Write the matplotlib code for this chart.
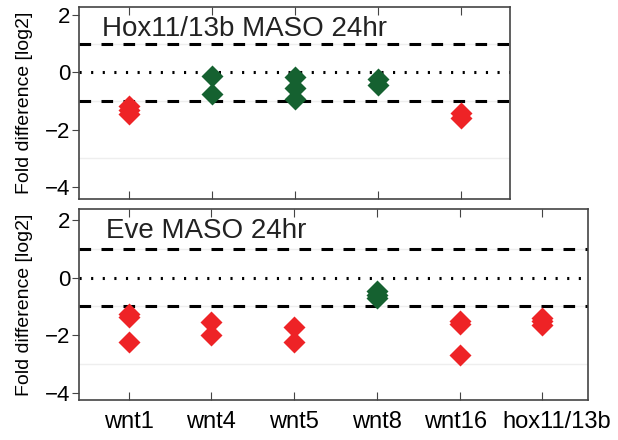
import matplotlib
matplotlib.use('Agg')
import matplotlib.pyplot as plt
import matplotlib.transforms as mtransforms

plt.rcParams['font.family'] = ['Liberation Sans', 'DejaVu Sans']

# Data (log2 fold difference)
top_title = 'Hox11/13b MASO 24hr'
top_genes = ['wnt1', 'wnt4', 'wnt5', 'wnt8', 'wnt16']
top_values = [
    [-1.17, -1.3, -1.47],
    [-0.13, -0.76],
    [-0.18, -0.55, -0.92],
    [-0.22, -0.45],
    [-1.42, -1.58],
]
top_signif = [True, False, False, False, True]

bot_title = 'Eve MASO 24hr'
bot_genes = ['wnt1', 'wnt4', 'wnt5', 'wnt8', 'wnt16', 'hox11/13b']
bot_values = [
    [-1.25, -1.38, -2.22],
    [-1.55, -2.0],
    [-1.72, -2.22],
    [-0.48, -0.6, -0.7],
    [-1.52, -1.6, -2.68],
    [-1.4, -1.52, -1.65],
]
bot_signif = [True, True, True, False, True, True]

RED = '#ee2326'
GREEN = '#156130'
SPINE = '#444444'

fig = plt.figure(figsize=(6.18, 4.4), dpi=100)
ax1 = fig.add_axes([79 / 618, 1 - 199 / 440, 431 / 618, 192 / 440])
ax2 = fig.add_axes([79 / 618, 1 - 400 / 440, 509 / 618, 191 / 440])


def panel(ax, title, genes, values, signif, ylim, xmax, label_x, show_xlabels):
    for y in [1, -1, -3]:
        ax.axhline(y, color='#eeeeee', lw=1, zorder=0)
    ax.axhline(1, color='black', lw=2.2, ls=(0, (3.8, 3.4)), zorder=1)
    ax.axhline(-1, color='black', lw=2.2, ls=(0, (3.8, 3.4)), zorder=1)
    ax.axhline(0, color='black', lw=2.2, ls=(0, (0.7, 3.1)), zorder=1)
    for i, (vals, sig) in enumerate(zip(values, signif)):
        ax.plot([i + 1] * len(vals), vals, ls='none', marker='D', ms=11,
                mfc=RED if sig else GREEN, mec='none', zorder=3)
    ax.set_xlim(0.4, xmax)
    ax.set_ylim(*ylim)
    ax.set_yticks([2, 0, -2, -4])
    ax.set_xticks(range(1, len(genes) + 1))
    ax.set_xticklabels(genes if show_xlabels else [])
    ax.tick_params(axis='x', direction='in', top=True, bottom=True, length=6,
                   color=SPINE, labelsize=17, pad=8)
    ax.tick_params(axis='y', direction='out', length=5, color=SPINE,
                   labelsize=16, pad=1)
    for s in ax.spines.values():
        s.set_color(SPINE)
        s.set_linewidth(1.2)
    ax.text(0.053, 0.85, title, transform=ax.transAxes, fontsize=20,
            color='#222222', va='baseline', ha='left')
    ax.set_ylabel('Fold difference [log2]', fontsize=14)
    ax.yaxis.set_label_coords(label_x, 0.5)


panel(ax1, top_title, top_genes, top_values, top_signif,
      (-4.42, 2.28), 5.59, -46 / 431, False)
panel(ax2, bot_title, bot_genes, bot_values, bot_signif,
      (-4.25, 2.38), 6.55, -46 / 509, True)

# last two labels sit a little off their ticks in the original
labels = ax2.get_xticklabels()
for lab, dx in [(labels[4], -4), (labels[5], 14)]:
    lab.set_transform(lab.get_transform() +
                      mtransforms.ScaledTranslation(dx / 100, 0, fig.dpi_scale_trans))

fig.savefig('out.png', dpi=100)
